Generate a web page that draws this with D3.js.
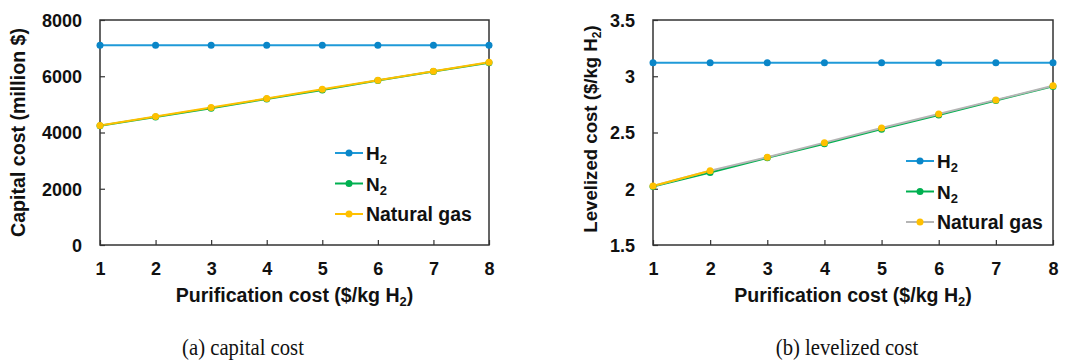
<!DOCTYPE html>
<html>
<head>
<script src="https://d3js.org/d3.v7.min.js"></script>
<style>
  body { margin: 0; background: #fff; }
  svg { display: block; }
  .tick text { font-family: "Liberation Sans", Arial, sans-serif; font-weight: bold; fill: #111; }
  .lbl { font-family: "Liberation Sans", Arial, sans-serif; font-weight: bold; fill: #111; }
  .cap { font-family: "Liberation Serif", "Times New Roman", serif; fill: #111; }
</style>
</head>
<body>
<script>
// data
var purification = [1, 2, 3, 4, 5, 6, 7, 8];

var capitalH2  = [7100, 7100, 7100, 7100, 7100, 7100, 7100, 7100];
var capitalN2  = [4240, 4555, 4860, 5195, 5510, 5845, 6165, 6480];
var capitalNG  = [4250, 4570, 4890, 5210, 5540, 5860, 6180, 6500];
var capitalTicks = [0, 2000, 4000, 6000, 8000];

var levelH2 = [3.12, 3.12, 3.12, 3.12, 3.12, 3.12, 3.12, 3.12];
var levelN2 = [2.02, 2.145, 2.275, 2.40, 2.53, 2.655, 2.785, 2.91];
var levelNG = [2.025, 2.16, 2.28, 2.41, 2.54, 2.665, 2.79, 2.915];
var levelTicks = [1.5, 2, 2.5, 3, 3.5];

var seriesNames = ["H2", "N2", "Natural gas"];

var W = 1069, H = 362;
var svg = d3.select("body").append("svg").attr("width", W).attr("height", H);

var blue = "#1f9ad8", blueDot = "#0a86c8", green = "#00b050", yellow = "#ffc000", grey = "#b5b5b5";

// shrink/grow a text's font so it spans a given length
function fit(t, size, target) {
  var len = t.node().getComputedTextLength();
  t.style("font-size", (size * target / len).toFixed(2) + "px");
}

function panel(opt) {
  var x = d3.scaleLinear().domain([1, 8]).range([opt.left, opt.right]);
  var y = d3.scaleLinear().domain(opt.domain).range([opt.bottom, opt.top]);
  var g = svg.append("g");

  // x axis with inward ticks
  var xa = g.append("g").attr("transform", "translate(0," + opt.bottom + ")")
    .call(d3.axisBottom(x).tickValues(purification).tickSize(-5).tickPadding(17).tickFormat(d3.format("d")));
  xa.select(".domain").remove();
  xa.selectAll("line").attr("stroke", "#333").attr("stroke-width", 1.2);
  xa.selectAll("text").style("font-size", "18px");

  var ya = g.append("g").attr("transform", "translate(" + opt.left + ",0)")
    .call(d3.axisLeft(y).tickValues(opt.ticks).tickSize(-5).tickPadding(18).tickFormat(opt.fmt));
  ya.select(".domain").remove();
  ya.selectAll("line").attr("stroke", "#333").attr("stroke-width", 1.2);
  ya.selectAll("text").style("font-size", "18px").attr("dy", "0.35em");

  // frame
  g.append("rect").attr("x", opt.left).attr("y", opt.top)
    .attr("width", opt.right - opt.left).attr("height", opt.bottom - opt.top)
    .attr("fill", "none").attr("stroke", "#333").attr("stroke-width", 1.5);

  var line = d3.line().x(function(d, i) { return x(purification[i]); }).y(function(d) { return y(d); });

  var series = [
    {v: opt.h2, line: blue, dot: blueDot},
    {v: opt.n2, line: green, dot: green},
    {v: opt.ng, line: opt.ngLine, dot: yellow}
  ];
  series.forEach(function(s) {
    g.append("path").attr("d", line(s.v)).attr("fill", "none")
      .attr("stroke", s.line).attr("stroke-width", 2);
  });
  if (opt.ngLine !== yellow) {
    // first segment of natural gas looks yellow in the right panel
    g.append("path").attr("d", line(opt.ng.slice(0, 2))).attr("fill", "none")
      .attr("stroke", yellow).attr("stroke-width", 2);
  }
  series.forEach(function(s) {
    g.selectAll(null).data(s.v).enter().append("circle")
      .attr("cx", function(d, i) { return x(purification[i]); })
      .attr("cy", function(d) { return y(d); })
      .attr("r", 3.5).attr("fill", s.dot);
  });

  // legend
  var leg = [
    {line: blue, dot: blueDot},
    {line: green, dot: green},
    {line: opt.ngLine, dot: yellow}
  ];
  leg.forEach(function(s, i) {
    var ly = opt.legY + i * 30.5;
    g.append("line").attr("x1", opt.legX).attr("x2", opt.legX + 28)
      .attr("y1", ly).attr("y2", ly).attr("stroke", s.line).attr("stroke-width", 2);
    g.append("circle").attr("cx", opt.legX + 14).attr("cy", ly).attr("r", 3.5).attr("fill", s.dot);
    var t = g.append("text").attr("class", "lbl").attr("x", opt.legX + 31).attr("y", ly + 7)
      .style("font-size", "19px");
    if (seriesNames[i] === "Natural gas") {
      t.text("Natural gas");
      fit(t, 19, 106);
    } else {
      t.text(seriesNames[i].charAt(0));
      t.append("tspan").attr("dy", 4).style("font-size", "13px").text("2");
    }
  });

  // axis titles
  var xt = g.append("text").attr("class", "lbl").attr("text-anchor", "middle")
    .attr("x", (opt.left + opt.right) / 2).attr("y", 302).style("font-size", "19px")
    .text("Purification cost ($/kg H");
  xt.append("tspan").attr("dy", 4).style("font-size", "13px").text("2");
  xt.append("tspan").attr("dy", -4).text(")");
  fit(xt, 19, 238);

  var yt = g.append("text").attr("class", "lbl").attr("text-anchor", "middle")
    .attr("transform", "translate(" + opt.ytX + "," + opt.ytY + ") rotate(-90)")
    .style("font-size", "17.5px").text(opt.ytitle);
  if (opt.ysub) {
    yt.append("tspan").attr("dy", 4).style("font-size", "12px").text("2");
    yt.append("tspan").attr("dy", -4).text(")");
  }
  fit(yt, 17.5, opt.ytLen);

  svg.append("text").attr("class", "cap").attr("text-anchor", "middle")
    .attr("transform", "translate(" + opt.capX + ",355) scale(0.9,1)")
    .style("font-size", "23px").text(opt.caption);
}

panel({
  left: 100, right: 489, top: 20, bottom: 245,
  domain: [0, 8000], ticks: capitalTicks, fmt: d3.format("d"),
  h2: capitalH2, n2: capitalN2, ng: capitalNG, ngLine: yellow,
  legX: 335, legY: 153,
  ytX: 25, ytY: 132.5, ytLen: 209, ytitle: "Capital cost (million $)", ysub: false,
  capX: 243, caption: "(a) capital cost"
});

panel({
  left: 653, right: 1053, top: 20, bottom: 245,
  domain: [1.5, 3.5], ticks: levelTicks, fmt: function(d) { return String(d); },
  h2: levelH2, n2: levelN2, ng: levelNG, ngLine: grey,
  legX: 906, legY: 161,
  ytX: 597, ytY: 129, ytLen: 208, ytitle: "Levelized cost ($/kg H", ysub: true,
  capX: 847, caption: "(b) levelized cost"
});
</script>
</body>
</html>
